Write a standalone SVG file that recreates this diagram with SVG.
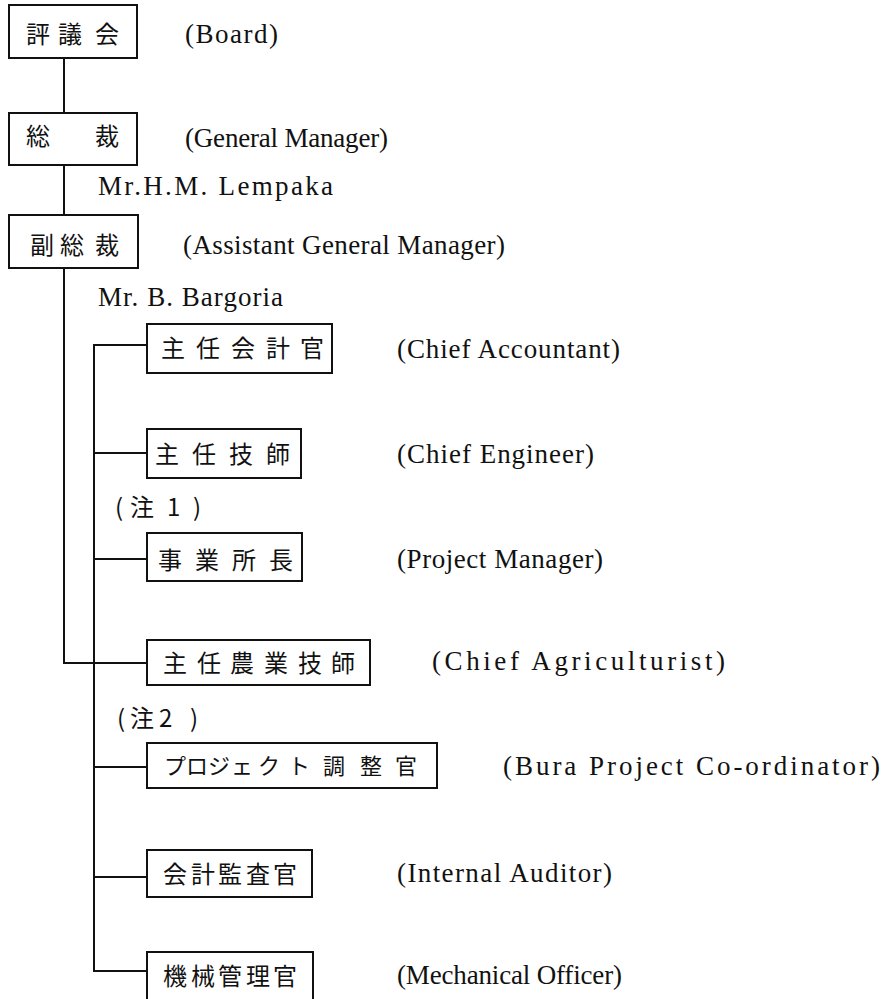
<svg xmlns="http://www.w3.org/2000/svg" width="888" height="999" viewBox="0 0 888 999">
<style>
.box{fill:#fff;stroke:#111;stroke-width:2}
.conn{fill:none;stroke:#111;stroke-width:2}
.jp{font-family:"Noto Sans CJK JP","Noto Sans",sans-serif;font-size:24px;fill:#111}
.en{font-family:"Liberation Serif","DejaVu Serif",serif;font-size:27px;fill:#111}
</style>
<rect width="888" height="999" fill="#fff"/>
<g id="connectors">
<path class="conn" d="M64 58V113M64 165V215M64 268V663H147"/>
<path class="conn" d="M147 345H94V971H147M94 453H147M94 559H147M94 767H147M94 877H147"/>
</g>
<g id="board">
<rect class="box" x="9" y="5" width="128" height="53"/>
<text class="jp" x="26 58 95" y="43">評議会</text>
<text class="en" x="185" y="43" textLength="93" lengthAdjust="spacing">(Board)</text>
</g>
<g id="general-manager">
<rect class="box" x="9" y="113" width="128" height="52"/>
<text class="jp" x="26 95" y="145">総裁</text>
<text class="en" x="185" y="147" textLength="203" lengthAdjust="spacing">(General Manager)</text>
<text class="en" x="98" y="195" textLength="235" lengthAdjust="spacing">Mr.H.M. Lempaka</text>
</g>
<g id="assistant-general-manager">
<rect class="box" x="9" y="215" width="129" height="53"/>
<text class="jp" x="30 60 95" y="254">副総裁</text>
<text class="en" x="183" y="254" textLength="322" lengthAdjust="spacing">(Assistant General Manager)</text>
<text class="en" x="98" y="306" textLength="185" lengthAdjust="spacing">Mr. B. Bargoria</text>
</g>
<g id="chief-accountant">
<rect class="box" x="147" y="324" width="185" height="49"/>
<text class="jp" x="161 196 231 266 300" y="357">主任会計官</text>
<text class="en" x="397" y="358" textLength="223" lengthAdjust="spacing">(Chief Accountant)</text>
</g>
<g id="chief-engineer">
<rect class="box" x="147" y="429" width="154" height="49"/>
<text class="jp" x="155 192 229 266" y="463">主任技師</text>
<text class="en" x="397" y="463" textLength="197" lengthAdjust="spacing">(Chief Engineer)</text>
</g>
<g id="note1">
<text class="jp" x="115 130 167 193" y="516">(注1)</text>
</g>
<g id="project-manager">
<rect class="box" x="147" y="533" width="155" height="48"/>
<text class="jp" x="158 195 232 269" y="569">事業所長</text>
<text class="en" x="397" y="568" textLength="206" lengthAdjust="spacing">(Project Manager)</text>
</g>
<g id="chief-agriculturist">
<rect class="box" x="147" y="640" width="223" height="45"/>
<text class="jp" x="163 197 230 264 298 331" y="672">主任農業技師</text>
<text class="en" x="432" y="670" textLength="293" lengthAdjust="spacing">(Chief Agriculturist)</text>
</g>
<g id="note2">
<text class="jp" x="117 130 159 190" y="727">(注2)</text>
</g>
<g id="bura-project-coordinator">
<rect class="box" x="147" y="743" width="290" height="45"/>
<text class="jp" style="font-size:22px" x="164 186 208 231 258 288 323 360 395" y="774">プロジェクト調整官</text>
<text class="en" x="503" y="775" textLength="377" lengthAdjust="spacing">(Bura Project Co-ordinator)</text>
</g>
<g id="internal-auditor">
<rect class="box" x="147" y="850" width="165" height="47"/>
<text class="jp" x="163 191 218 246 273" y="883">会計監査官</text>
<text class="en" x="397" y="882" textLength="215" lengthAdjust="spacing">(Internal Auditor)</text>
</g>
<g id="mechanical-officer">
<rect class="box" x="147" y="952" width="166" height="52"/>
<text class="jp" x="163 191 218 246 273" y="985">機械管理官</text>
<text class="en" x="397" y="984" textLength="225" lengthAdjust="spacing">(Mechanical Officer)</text>
</g>
</svg>
